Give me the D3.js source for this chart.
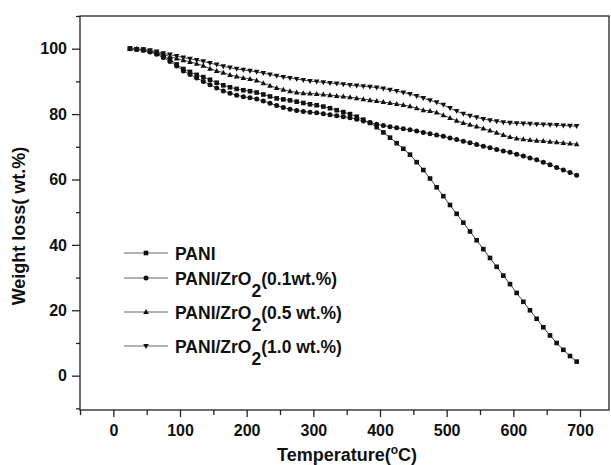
<!DOCTYPE html>
<html>
<head>
<meta charset="utf-8">
<style>
  body { margin: 0; background: #fff; }
  svg { display: block; font-family: Arial, "Liberation Sans", sans-serif; }
</style>
</head>
<body>
<svg id="tga" width="611" height="465"></svg>
<script src="https://cdn.jsdelivr.net/npm/d3@7"></script>
<script>

// temperatures (degC) at which the curves were read
var temps = d3.range(25, 700, 10);

var pani = [100.0, 99.8, 99.6, 99.2, 98.6, 97.8, 96.6, 95.2, 93.8, 92.9,
            92.0, 91.3, 90.5, 89.6, 88.8, 88.2, 87.7, 87.3, 87.0, 86.6,
            86.0, 85.4, 84.8, 84.5, 84.2, 83.8, 83.4, 83.0, 82.7, 82.3,
            81.8, 81.2, 80.6, 80.0, 79.2, 78.3, 77.3, 76.0, 74.4, 72.8,
            71.1, 69.4, 67.6, 65.3, 62.9, 60.3, 57.6, 54.9, 52.2, 49.5,
            46.8, 44.1, 41.4, 38.7, 36.0, 33.3, 30.6, 28.0, 25.3, 22.6,
            20.0, 17.4, 14.8, 12.3, 10.0, 7.9, 6.0, 4.3];

var zr01 = [100.0, 99.8, 99.5, 99.0, 98.3, 97.3, 96.1, 94.7, 93.2, 92.1,
            91.0, 90.0, 89.0, 88.0, 87.1, 86.4, 85.8, 85.3, 85.0, 84.6,
            84.0, 83.3, 82.6, 82.0, 81.5, 81.1, 80.8, 80.6, 80.4, 80.1,
            79.8, 79.5, 79.2, 78.9, 78.4, 77.9, 77.4, 76.9, 76.5, 76.1,
            75.8, 75.5, 75.2, 74.8, 74.4, 74.0, 73.6, 73.2, 72.7, 72.2,
            71.7, 71.2, 70.7, 70.2, 69.7, 69.2, 68.7, 68.3, 67.7, 67.2,
            66.6, 66.0, 65.3, 64.5, 63.7, 62.9, 62.1, 61.3];

var zr05 = [100.0, 99.9, 99.7, 99.3, 98.8, 98.2, 97.6, 97.0, 96.5, 96.0,
            95.4, 94.8, 93.9, 93.2, 92.7, 92.0, 91.5, 91.1, 90.8, 90.3,
            89.5, 88.7, 88.0, 87.5, 87.0, 86.6, 86.4, 86.3, 86.2, 86.0,
            85.8, 85.6, 85.4, 85.2, 84.9, 84.6, 84.3, 84.0, 83.7, 83.4,
            83.1, 82.8, 82.4, 81.8, 81.2, 81.0, 80.5, 79.7, 78.8, 78.0,
            77.3, 76.8, 76.2, 75.6, 75.0, 74.3, 73.6, 73.0, 72.6, 72.3,
            72.1, 71.9, 71.8, 71.6, 71.4, 71.2, 71.0, 70.8];

var zr10 = [100.0, 99.9, 99.8, 99.5, 99.1, 98.6, 98.2, 97.7, 97.3, 96.9,
            96.5, 96.1, 95.6, 95.1, 94.6, 94.2, 93.8, 93.5, 93.2, 92.9,
            92.5, 92.1, 91.7, 91.3, 91.0, 90.7, 90.4, 90.1, 89.9, 89.7,
            89.5, 89.3, 89.1, 88.9, 88.7, 88.5, 88.3, 88.1, 87.8, 87.4,
            87.0, 86.6, 86.1, 85.5, 84.9, 84.2, 83.6, 82.8, 81.8, 80.9,
            80.1, 79.5, 79.0, 78.5, 78.1, 77.8, 77.5, 77.3, 77.2, 77.1,
            77.0, 76.9, 76.8, 76.7, 76.6, 76.5, 76.4, 76.3];

var seriesNames = ["PANI", "PANI/ZrO2(0.1wt.%)", "PANI/ZrO2(0.5 wt.%)", "PANI/ZrO2(1.0 wt.%)"];
var seriesValues = [pani, zr01, zr05, zr10];
var seriesSymbols = ["square", "circle", "triangleUp", "triangleDown"];

var xMajorTicks = [0, 100, 200, 300, 400, 500, 600, 700];
var yMajorTicks = [0, 20, 40, 60, 80, 100];

var svg = d3.select('#tga');
var plotL = 80, plotR = 609, plotT = 16, plotB = 410;

var x = d3.scaleLinear().domain([-50, 743.5]).range([plotL, plotR]);
var y = d3.scaleLinear().domain([-10.5, 110]).range([plotB, plotT]);

// frame
svg.append('rect')
    .attr('x', plotL).attr('y', plotT)
    .attr('width', plotR - plotL).attr('height', plotB - plotT)
    .style('fill', 'none').style('stroke', '#222').style('stroke-width', 1.3);

// axes
var xMinor = d3.range(-50, 750, 100);
var yMinor = d3.range(-10, 111, 20);

svg.append('g').attr('transform', 'translate(0,' + plotB + ')')
    .call(d3.axisBottom(x).tickValues(xMinor).tickSize(5).tickSizeOuter(0).tickFormat(''))
    .call(function(g){ g.select('.domain').remove(); });
var xAxis = svg.append('g').attr('transform', 'translate(0,' + plotB + ')')
    .call(d3.axisBottom(x).tickValues(xMajorTicks).tickSize(7).tickSizeOuter(0).tickPadding(8));
xAxis.select('.domain').remove();

svg.append('g').attr('transform', 'translate(' + plotL + ',0)')
    .call(d3.axisLeft(y).tickValues(yMinor).tickSize(4).tickSizeOuter(0).tickFormat(''))
    .call(function(g){ g.select('.domain').remove(); });
var yAxis = svg.append('g').attr('transform', 'translate(' + plotL + ',0)')
    .call(d3.axisLeft(y).tickValues(yMajorTicks).tickSize(8).tickSizeOuter(0).tickPadding(5));
yAxis.select('.domain').remove();

svg.selectAll('.tick line').style('stroke', '#222').style('stroke-width', 1.3);
svg.selectAll('.tick text')
    .style('font-size', '16px').style('font-weight', 'bold').style('fill', '#111')
    .style('font-family', 'Arial, "Liberation Sans", sans-serif');

// axis titles
var xt = svg.append('text')
    .attr('x', 347).attr('y', 461)
    .attr('text-anchor', 'middle')
    .style('font-size', '18px').style('font-weight', 'bold').style('fill', '#111');
xt.append('tspan').text('Temperature(');
xt.append('tspan').attr('dy', -7).style('font-size', '12px').text('o');
xt.append('tspan').attr('dy', 7).text('C)');

svg.append('text')
    .attr('transform', 'translate(25,226) rotate(-90)')
    .attr('text-anchor', 'middle')
    .style('font-size', '18px').style('font-weight', 'bold').style('fill', '#111')
    .text('Weight loss( wt.%)');

// symbols
function drawSymbol(g, kind, cx, cy) {
    var s = 2.3;
    if (kind === 'square') {
        g.append('rect').attr('x', cx - s).attr('y', cy - s)
            .attr('width', 2 * s).attr('height', 2 * s);
    } else if (kind === 'circle') {
        g.append('circle').attr('cx', cx).attr('cy', cy).attr('r', 2.5);
    } else if (kind === 'triangleUp') {
        g.append('path').attr('d', 'M' + cx + ',' + (cy - 2.9) + 'L' + (cx + 2.8) + ',' + (cy + 2.1) + 'L' + (cx - 2.8) + ',' + (cy + 2.1) + 'Z');
    } else {
        g.append('path').attr('d', 'M' + cx + ',' + (cy + 2.9) + 'L' + (cx + 2.8) + ',' + (cy - 2.1) + 'L' + (cx - 2.8) + ',' + (cy - 2.1) + 'Z');
    }
}

var line = d3.line()
    .x(function(d, i){ return x(temps[i]); })
    .y(function(d){ return y(d); });

seriesValues.forEach(function(vals, k) {
    var g = svg.append('g').style('fill', '#111');
    g.append('path').datum(vals)
        .attr('d', line)
        .style('fill', 'none').style('stroke', '#444').style('stroke-width', 1);
    vals.forEach(function(v, i) {
        drawSymbol(g, seriesSymbols[k], x(temps[i]), y(v));
    });
});

// legend
var legY = 253;
seriesNames.forEach(function(name, k) {
    var g = svg.append('g').style('fill', '#111');
    g.append('line').attr('x1', 124).attr('x2', 168).attr('y1', legY).attr('y2', legY)
        .style('stroke', '#666').style('stroke-width', 1);
    drawSymbol(g, seriesSymbols[k], 146, legY);
    var t = g.append('text').attr('x', 175).attr('y', legY + 6.5)
        .style('font-size', '17.5px').style('font-weight', 'bold');
    var idx = name.indexOf('ZrO2');
    if (idx < 0) {
        t.text(name);
        legY += 25;
    } else {
        t.append('tspan').text(name.slice(0, idx + 3));
        t.append('tspan').attr('dy', 12).text('2');
        t.append('tspan').attr('dy', -12).text(name.slice(idx + 4));
        legY += 34;
    }
});

</script>
</body>
</html>
